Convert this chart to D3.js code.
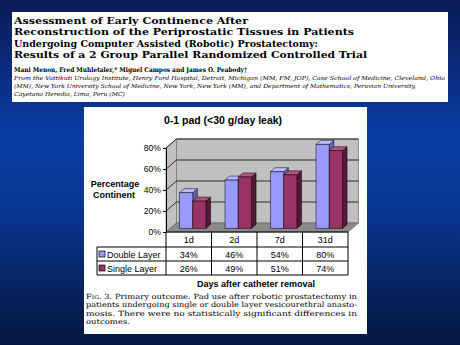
<!DOCTYPE html>
<html><head><meta charset="utf-8">
<script src="https://cdn.jsdelivr.net/npm/d3@7"></script>
<style>html,body{margin:0;padding:0;background:#0a2a7a;overflow:hidden}svg{display:block}</style>
</head><body>
<script>
// ---------- data ----------
const categories = ["1d", "2d", "7d", "31d"];
const seriesNames = ["Double Layer", "Single Layer"];
const doubleLayer = [34, 46, 54, 80];
const singleLayer = [26, 49, 51, 74];
const yTicks = [0, 20, 40, 60, 80];
const chartTitle = "0-1 pad (<30 g/day leak)";
const yTitleLines = ["Percentage", "Continent"];
const xTitle = "Days after catheter removal";
const headerTitle = [
  "Assessment of Early Continence After",
  "Reconstruction of the Periprostatic Tissues in Patients",
  "Undergoing Computer Assisted (Robotic) Prostatectomy:",
  "Results of a 2 Group Parallel Randomized Controlled Trial"
];
const authors = "Mani Menon, Fred Muhletaler,* Miguel Campos and James O. Peabody\u2020";
const affiliation = [
  "From the Vattikuti Urology Institute, Henry Ford Hospital, Detroit, Michigan (MM, FM, JOP), Case School of Medicine, Cleveland, Ohio",
  "(MM), New York University School of Medicine, New York, New York (MM), and Department of Mathematics, Peruvian University,",
  "Cayetano Heredia, Lima, Peru (MC)"
];
const caption = [
  "Fig. 3. Primary outcome. Pad use after robotic prostatectomy in",
  "patients undergoing single or double layer vesicourethral anasto-",
  "mosis. There were no statistically significant differences in",
  "outcomes."
];
const seriesValues = [doubleLayer, singleLayer];

// ---------- layout / style ----------
const W = 460, H = 345;
const colors = {
  "Double Layer": {front: "#9999ff", top: "#bbbbff", side: "#6262b0"},
  "Single Layer": {front: "#993366", top: "#b5557f", side: "#55193a"}
};
const svg = d3.select("body").append("svg").attr("width", W).attr("height", H);
const defs = svg.append("defs");
const g = defs.append("linearGradient").attr("id", "bg").attr("x1", 0).attr("y1", 0).attr("x2", 0).attr("y2", 1);
[[0, "#0a1c56"], [0.1, "#0b236a"], [0.4, "#0b3ea5"], [0.6, "#0a3794"], [0.85, "#07225e"], [1, "#05173f"]]
  .forEach(([o, c]) => g.append("stop").attr("offset", o).attr("stop-color", c));
svg.append("rect").attr("width", W).attr("height", H).attr("fill", "url(#bg)");

// header box
svg.append("rect").attr("x", 12).attr("y", 12).attr("width", 436).attr("height", 90).attr("fill", "#fff");
const serif = "'DejaVu Serif', 'Liberation Serif', serif";
const sans = "'Liberation Sans', Arial, sans-serif";
function txt(x, y, s, opts) {
  const t = svg.append("text").attr("x", x).attr("y", y).text(s)
    .attr("font-family", opts.family || sans).attr("font-size", opts.size)
    .attr("fill", "#000");
  if (opts.weight) t.attr("font-weight", opts.weight);
  if (opts.style) t.attr("font-style", opts.style);
  if (opts.anchor) t.attr("text-anchor", opts.anchor);
  if (opts.len) t.attr("textLength", opts.len).attr("lengthAdjust", "spacingAndGlyphs");
  if (opts.base) t.attr("dominant-baseline", opts.base);
  return t;
}
const titleEnds = [248, 354, 318, 367];
const titleBase = [23.5, 35, 46.5, 57.8];
headerTitle.forEach((s, i) => txt(14, titleBase[i], s, {family: serif, size: 9.8, weight: "bold", len: titleEnds[i] - 14}));
txt(14, 72, authors, {family: serif, size: 6.6, weight: "bold", len: 233});
const affEnds = [445, 416, 125];
const affBase = [79.8, 88, 96];
affiliation.forEach((s, i) => txt(14, affBase[i], s, {family: serif, size: 5.6, style: "italic", len: affEnds[i] - 14}));

// chart box
svg.append("rect").attr("x", 84).attr("y", 107).attr("width", 283).attr("height", 227).attr("fill", "#fff");

txt(223, 124, chartTitle, {size: 10.5, weight: "bold", anchor: "middle"});

// plot geometry
const x0 = 166, x1 = 348, yBase = 232, yTop = 148;
const D = {dx: 10.5, dy: -9};
const x = d3.scaleBand().domain(categories).range([x0, x1]);
const xs = d3.scaleBand().domain(seriesNames).range([0, x.bandwidth()]).paddingOuter(0.72);
const y = d3.scaleLinear().domain([0, 80]).range([yBase, yTop]);
const line = d3.line();
const poly = (pts, fill, stroke, sw) => svg.append("path").attr("d", line(pts) + "Z")
  .attr("fill", fill).attr("stroke", stroke || "none").attr("stroke-width", sw || 0);

// walls and floor
poly([[x0, y(0)], [x0 + D.dx, y(0) + D.dy], [x0 + D.dx, y(80) + D.dy], [x0, y(80)]], "#c0c0c0", "#7a7a7a", 0.8);
poly([[x0 + D.dx, y(0) + D.dy], [x1 + D.dx, y(0) + D.dy], [x1 + D.dx, y(80) + D.dy], [x0 + D.dx, y(80) + D.dy]], "#c0c0c0", "#7a7a7a", 0.8);
poly([[x0, y(0)], [x1, y(0)], [x1 + D.dx, y(0) + D.dy], [x0 + D.dx, y(0) + D.dy]], "#8a8a8a", "#6a6a6a", 0.8);
yTicks.filter(t => t > 0).forEach(t => {
  svg.append("path").attr("d", line([[x0, y(t)], [x0 + D.dx, y(t) + D.dy], [x1 + D.dx, y(t) + D.dy]]))
    .attr("fill", "none").attr("stroke", "#2a2a2a").attr("stroke-width", 1);
});

// axis
const axisG = svg.append("g").attr("transform", `translate(${x0},0)`)
  .call(d3.axisLeft(y).tickValues(yTicks).tickFormat(d => d + "%").tickSize(3).tickPadding(2));
axisG.select(".domain").attr("stroke", "#000");
axisG.selectAll("text").attr("font-family", sans).attr("font-size", 8.6).attr("fill", "#000");
axisG.selectAll("line").attr("stroke", "#000");

// bars
const FO = {dx: 4, dy: -3.6};
const BD = {dx: 4.6, dy: -4};
categories.forEach((c, i) => {
  seriesNames.forEach((s, k) => {
    const v = seriesValues[k][i];
    const fx = x(c) + xs(s) + FO.dx, w = xs.bandwidth();
    const fy = y(v) + FO.dy, by = y(0) + FO.dy;
    const col = colors[s];
    poly([[fx + w, fy], [fx + w + BD.dx, fy + BD.dy], [fx + w + BD.dx, by + BD.dy], [fx + w, by]], col.side, "#000", 0.5);
    poly([[fx, fy], [fx + w, fy], [fx + w + BD.dx, fy + BD.dy], [fx + BD.dx, fy + BD.dy]], col.top, "#000", 0.5);
    poly([[fx, fy], [fx + w, fy], [fx + w, by], [fx, by]], col.front, "#000", 0.5);
  });
});

// data table
const rowY = [232, 247, 261, 275];
const legLeft = 97;
const tl = (a, b, c, d) => svg.append("line").attr("x1", a).attr("y1", b).attr("x2", c).attr("y2", d)
  .attr("stroke", "#000").attr("stroke-width", 1);
tl(x0, rowY[0], x1, rowY[0]);
[1, 2, 3].forEach(r => tl(legLeft, rowY[r], x1, rowY[r]));
categories.forEach(c => tl(x(c), rowY[0], x(c), rowY[3]));
tl(x1, rowY[0], x1, rowY[3]);
tl(legLeft, rowY[1], legLeft, rowY[3]);
categories.forEach((c, i) => {
  const cx = x(c) + x.bandwidth() / 2;
  txt(cx, (rowY[0] + rowY[1]) / 2 + 0.5, c, {size: 9, anchor: "middle", base: "central"});
  seriesNames.forEach((s, k) => {
    txt(cx, (rowY[k + 1] + rowY[k + 2]) / 2 + 0.5, seriesValues[k][i] + "%", {size: 9, anchor: "middle", base: "central"});
  });
});
seriesNames.forEach((s, k) => {
  const cy = (rowY[k + 1] + rowY[k + 2]) / 2;
  svg.append("rect").attr("x", 99).attr("y", cy - 3).attr("width", 6).attr("height", 6)
    .attr("fill", colors[s].front).attr("stroke", "#000").attr("stroke-width", 0.7);
  txt(107, cy + 0.5, s, {size: 9, base: "central"});
});

// axis titles
txt(115, 187, yTitleLines[0], {size: 9, weight: "bold", anchor: "middle"});
txt(114, 198, yTitleLines[1], {size: 9, weight: "bold", anchor: "middle"});
txt(256, 287, xTitle, {size: 9, weight: "bold", anchor: "middle"});

// caption
const capBase = [298.5, 307, 315.5, 324];
caption.forEach((s, i) => {
  const t = txt(86, capBase[i], s, {family: serif, size: 7.1, len: i < 3 ? 271 : 44});
  if (i === 0) {
    t.text(null);
    t.append("tspan").attr("font-variant", "small-caps").text(s.slice(0, 4));
    t.append("tspan").text(s.slice(4));
  }
});
</script>
</body></html>
